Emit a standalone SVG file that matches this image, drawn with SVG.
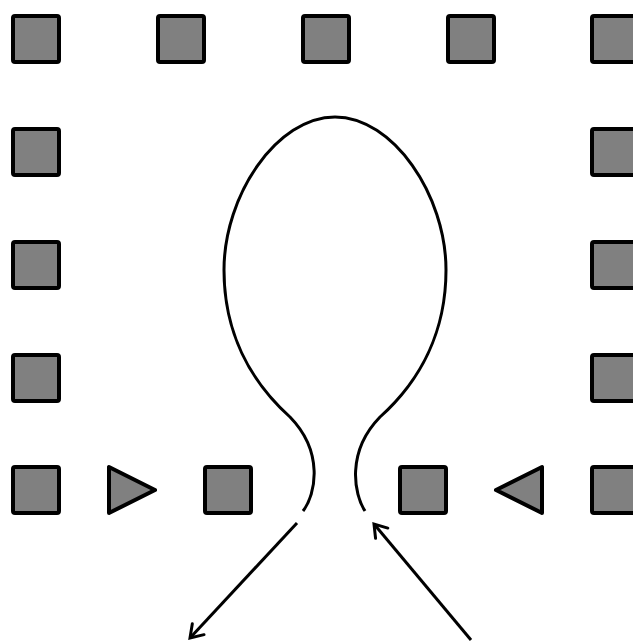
<svg xmlns="http://www.w3.org/2000/svg" width="633" height="642" viewBox="0 0 633 642">
<defs>
<style>
.sq{fill:#808080;stroke:#000;stroke-width:4;stroke-linejoin:round}
.ln{fill:none;stroke:#000;stroke-width:3}
</style>
<marker id="ah" markerUnits="userSpaceOnUse" markerWidth="20" markerHeight="20" refX="14" refY="10" orient="auto" viewBox="0 0 20 20">
<polyline points="2,2 14,10 2,18" fill="none" stroke="#000" stroke-width="3" stroke-linecap="round" stroke-linejoin="miter"/>
</marker>
</defs>
<rect width="633" height="642" fill="#fff"/>
<g id="r1c1"><rect class="sq" x="13" y="16" width="46" height="46" rx="2"/></g>
<g id="r1c2"><rect class="sq" x="158" y="16" width="46" height="46" rx="2"/></g>
<g id="r1c3"><rect class="sq" x="303" y="16" width="46" height="46" rx="2"/></g>
<g id="r1c4"><rect class="sq" x="448" y="16" width="46" height="46" rx="2"/></g>
<g id="r1c5"><rect class="sq" x="592" y="16" width="46" height="46" rx="2"/></g>
<g id="r2c1"><rect class="sq" x="13" y="129" width="46" height="46" rx="2"/></g>
<g id="r2c5"><rect class="sq" x="592" y="129" width="46" height="46" rx="2"/></g>
<g id="r3c1"><rect class="sq" x="13" y="242" width="46" height="46" rx="2"/></g>
<g id="r3c5"><rect class="sq" x="592" y="242" width="46" height="46" rx="2"/></g>
<g id="r4c1"><rect class="sq" x="13" y="355" width="46" height="46" rx="2"/></g>
<g id="r4c5"><rect class="sq" x="592" y="355" width="46" height="46" rx="2"/></g>
<g id="r5c1"><rect class="sq" x="13" y="467" width="46" height="46" rx="2"/></g>
<g id="triR"><polygon class="sq" points="109,467 109,513 155,490"/></g>
<g id="r5c3"><rect class="sq" x="205" y="467" width="46" height="46" rx="2"/></g>
<g id="r5c4"><rect class="sq" x="400" y="467" width="46" height="46" rx="2"/></g>
<g id="triL"><polygon class="sq" points="542,467 542,513 496,490"/></g>
<g id="r5c5"><rect class="sq" x="592" y="467" width="46" height="46" rx="2"/></g>
<g id="connectors">
<path class="ln" d="M 303,511 C 316,494 324,452 290,417 C 250,381 224,332 224,270 C 224,195 277,117 335,117 C 393,117 446,195 446,270 C 446,332 420,381 380,417 C 346,452 354,494 365,511"/>
<line class="ln" x1="297" y1="523" x2="190" y2="638" marker-end="url(#ah)"/>
<line class="ln" x1="471" y1="640" x2="374" y2="524" marker-end="url(#ah)"/>
</g>
</svg>
